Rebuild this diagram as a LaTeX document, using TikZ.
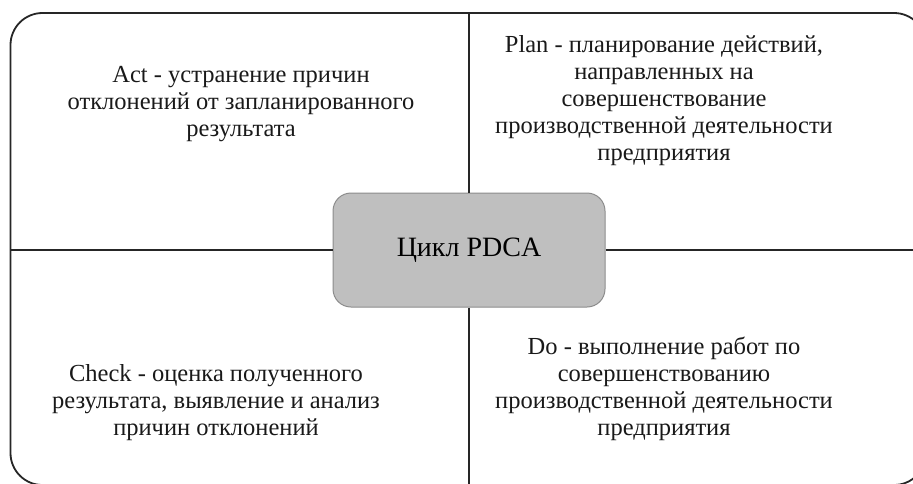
\documentclass[tikz,border=0pt]{standalone}
\usepackage{fontspec}
\setmainfont{Liberation Serif}
\begin{document}
\begin{tikzpicture}[x=1pt,y=-1pt,
  frame/.style={line width=1.8pt,draw=black!85},
  quadtext/.style={align=center,font=\fontsize{24.5}{27}\selectfont,text=black!90,inner sep=0pt},
  centerbox/.style={draw=black!45,line width=1pt,fill=black!25,rounded corners=18pt,minimum width=272pt,minimum height=114pt,font=\fontsize{28}{30}\selectfont}]
\useasboundingbox (0,0) rectangle (913,483);
\begin{scope}
\clip (0,0) rectangle (913,483);
\draw[frame,rounded corners=32pt] (10.5,13) rectangle (926,485);
\coordinate (top) at (469,13);
\coordinate (bot) at (469,490);
\coordinate (lft) at (10.5,250);
\coordinate (rgt) at (930,250);
\node[centerbox] (c) at (469,250) {Цикл PDCA};
\draw[frame] (top) -- (c.north);
\draw[frame] (c.south) -- (bot);
\draw[frame] (lft) -- (c.west);
\draw[frame] (c.east) -- (rgt);
\end{scope}
\node[quadtext] (act) at (241,104) {Act - устранение причин\\отклонений от запланированного\\результата};
\node[quadtext] (plan) at (664,101) {Plan - планирование действий,\\направленных на\\совершенствование\\производственной деятельности\\предприятия};
\node[quadtext] (check) at (216,403) {Check - оценка полученного\\результата, выявление и анализ\\причин отклонений};
\node[quadtext] (do) at (664,389) {Do - выполнение работ по\\совершенствованию\\производственной деятельности\\предприятия};
\end{tikzpicture}
\end{document}
